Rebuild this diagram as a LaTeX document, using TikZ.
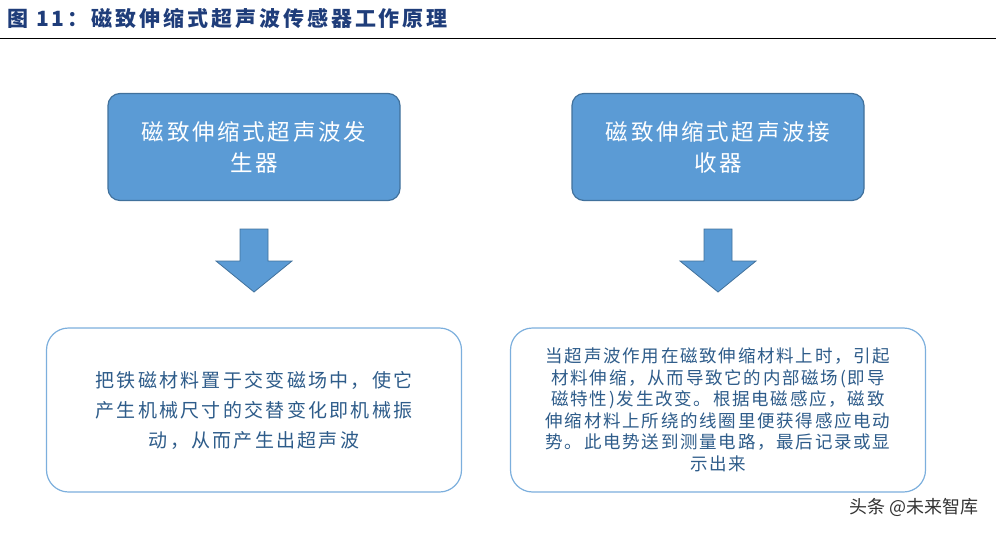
\documentclass[tikz,border=0pt]{standalone}
\usepackage{fontspec}
\newfontfamily\cjk{Noto Sans CJK SC}[LetterSpace=12]
\newfontfamily\cjkb{Noto Sans CJK SC}[LetterSpace=10]
\newfontfamily\cjkt{Noto Sans CJK SC}[LetterSpace=14]
\newfontfamily\cjkw{Noto Sans CJK SC}
\definecolor{tblue}{HTML}{1F3D7A}
\definecolor{bfill}{HTML}{5B9BD5}
\definecolor{bdraw}{HTML}{41719C}
\definecolor{ltxt}{HTML}{2E5C8A}
\begin{document}
\begin{tikzpicture}[x=1pt,y=-1pt,
  topbox/.style={draw=bdraw,line width=1.2pt,fill=bfill,rounded corners=12pt,minimum width=292pt,minimum height=107pt,align=center,font=\cjk\fontsize{22.5}{31}\selectfont,text=white},
  botbox/.style={draw=bfill!80,line width=1.2pt,fill=white,rounded corners=22pt,minimum width=415pt,minimum height=164pt,align=center,text=ltxt},
  darrow/.style={draw=bdraw,fill=bfill,line width=0.8pt}]
\useasboundingbox (0,0) rectangle (996,535);
\node[anchor=west,font=\cjkt\bfseries\fontsize{21}{22}\selectfont,text=tblue] (title) at (4,18) {图 11：磁致伸缩式超声波传感器工作原理};
\draw[line width=0.8pt] (0,38) -- (996,38);
\node[topbox] (g) at (254,147) {磁致伸缩式超声波发\\生器};
\node[topbox] (r) at (718,147) {磁致伸缩式超声波接\\收器};
\foreach \c/\n in {254/a1,718/a2}{
  \draw[darrow] (\c-14,229) -- (\c+14,229) -- (\c+14,261) -- (\c+38,261) -- (\c,292) -- (\c-38,261) -- (\c-14,261) -- cycle;
  \coordinate (\n) at (\c,260);
}
\node[botbox,font=\cjk\fontsize{19}{30}\selectfont] (b1) at (254,410) {把铁磁材料置于交变磁场中，使它\\产生机械尺寸的交替变化即机械振\\动，从而产生出超声波};
\node[botbox,font=\cjkb\fontsize{17.5}{21.5}\selectfont] (b2) at (718,410) {当超声波作用在磁致伸缩材料上时，引起\\材料伸缩，从而导致它的内部磁场(即导\\磁特性)发生改变。根据电磁感应，磁致\\伸缩材料上所绕的线圈里便获得感应电动\\势。此电势送到测量电路，最后记录或显\\示出来};
\node[anchor=east,font=\cjkw\fontsize{18}{20}\selectfont,text=black!80] (wm) at (982,507) {头条 @未来智库};
\end{tikzpicture}
\end{document}
